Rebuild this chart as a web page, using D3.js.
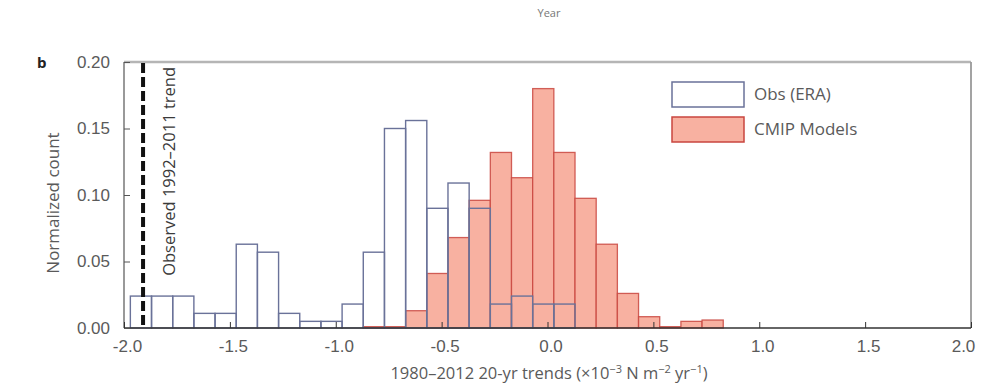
<!DOCTYPE html>
<html>
<head>
<meta charset="utf-8">
<script src="https://cdn.jsdelivr.net/npm/d3@7"></script>
<style>
  html, body { margin: 0; padding: 0; background: #fff; }
  svg { display: block; font-family: "Open Sans", "Noto Sans", sans-serif; }
</style>
</head>
<body>
<svg id="chart" width="982" height="383"></svg>
<script>
// ---- data ----
const binWidth = 0.1;
const binCenters = [-1.92, -1.82, -1.72, -1.62, -1.52, -1.42, -1.32, -1.22, -1.12, -1.02,
                    -0.92, -0.82, -0.72, -0.62, -0.52, -0.42, -0.32, -0.22, -0.12, -0.02,
                     0.08,  0.18,  0.28,  0.38,  0.48,  0.58,  0.68,  0.78];
const obsValues = [0.024, 0.024, 0.024, 0.011, 0.011, 0.063, 0.057, 0.011, 0.005, 0.005,
                   0.018, 0.057, 0.150, 0.156, 0.090, 0.109, 0.090, 0.018, 0.024, 0.018,
                   0.018, 0, 0, 0, 0, 0, 0, 0];
const cmipValues = [0, 0, 0, 0, 0, 0, 0, 0, 0, 0,
                    0, 0.001, 0.001, 0.013, 0.041, 0.068, 0.096, 0.132, 0.113, 0.180,
                    0.132, 0.0975, 0.063, 0.026, 0.0085, 0.001, 0.005, 0.006];
const observedTrend = -1.91;
const xTicks = [-2.0, -1.5, -1.0, -0.5, 0.0, 0.5, 1.0, 1.5, 2.0];
const yTicks = [0.00, 0.05, 0.10, 0.15, 0.20];
const seriesNames = ["Obs (ERA)", "CMIP Models"];

// ---- layout ----
const svg = d3.select("#chart");
const L = 124, R = 971, T = 62, B = 328;
const x = d3.scaleLinear().domain([-2, 2]).range([L, R]);
const y = d3.scaleLinear().domain([0, 0.2]).range([B, T]);

const pinkFill = "#f8b1a1", pinkStroke = "#c9463f";
const obsStroke = "#6a7299";
const textCol = "#5a5a5a";

// title fragment at top
svg.append("text").attr("x", 549).attr("y", 17).attr("text-anchor", "middle")
  .attr("font-size", 11).attr("fill", "#777").text("Year");

// panel label
svg.append("text").attr("x", 37).attr("y", 68).attr("font-size", 15)
  .attr("font-weight", "bold").attr("fill", "#222").text("b");

// CMIP bars
svg.append("g").selectAll("rect")
  .data(binCenters.map((c, i) => ({c, v: cmipValues[i]})).filter(d => d.v > 0))
  .join("rect")
  .attr("x", d => x(d.c - binWidth / 2))
  .attr("width", d => x(d.c + binWidth / 2) - x(d.c - binWidth / 2))
  .attr("y", d => y(d.v))
  .attr("height", d => y(0) - y(d.v))
  .attr("fill", pinkFill)
  .attr("stroke", pinkStroke)
  .attr("stroke-width", 1.3)
  .attr("stroke-opacity", 0.85);

// Obs bars (outline only)
svg.append("g").selectAll("rect")
  .data(binCenters.map((c, i) => ({c, v: obsValues[i]})).filter(d => d.v > 0))
  .join("rect")
  .attr("x", d => x(d.c - binWidth / 2))
  .attr("width", d => x(d.c + binWidth / 2) - x(d.c - binWidth / 2))
  .attr("y", d => y(d.v))
  .attr("height", d => y(0) - y(d.v))
  .attr("fill", "none")
  .attr("stroke", obsStroke)
  .attr("stroke-width", 1.4);

// frame
svg.append("line").attr("x1", L).attr("x2", R).attr("y1", T).attr("y2", T)
  .attr("stroke", "#b5b5b5").attr("stroke-width", 2.5);
svg.append("line").attr("x1", R).attr("x2", R).attr("y1", T).attr("y2", B)
  .attr("stroke", "#999").attr("stroke-width", 1.8);
svg.append("line").attr("x1", L).attr("x2", L).attr("y1", T).attr("y2", B)
  .attr("stroke", "#777").attr("stroke-width", 1.5);
svg.append("line").attr("x1", L).attr("x2", R).attr("y1", B).attr("y2", B)
  .attr("stroke", "#333").attr("stroke-width", 1.5);

// axes via d3 (inward ticks)
const xAxis = svg.append("g").attr("transform", `translate(0,${B})`)
  .call(d3.axisBottom(x).tickValues(xTicks).tickSize(-6).tickPadding(12)
        .tickFormat(d => d3.format(".1f")(d).replace("−", "-")));
xAxis.select(".domain").remove();
xAxis.selectAll(".tick line").attr("stroke", "#333");
xAxis.selectAll("text").attr("font-size", 17).attr("fill", textCol)
  .attr("transform", (d, i) => `translate(${i === xTicks.length - 1 ? -8 : 3},0)`);

const yAxis = svg.append("g").attr("transform", `translate(${L},0)`)
  .call(d3.axisLeft(y).tickValues(yTicks).tickSize(-6).tickPadding(14)
        .tickFormat(d3.format(".2f")));
yAxis.select(".domain").remove();
yAxis.selectAll(".tick line").attr("stroke", "#555");
yAxis.selectAll("text").attr("font-size", 17).attr("fill", textCol);

// dashed observed trend line
svg.append("line")
  .attr("x1", x(observedTrend)).attr("x2", x(observedTrend))
  .attr("y1", T + 1).attr("y2", B)
  .attr("stroke", "#111").attr("stroke-width", 4)
  .attr("stroke-dasharray", "10,4");
svg.append("text")
  .attr("transform", `translate(${x(observedTrend) + 32},${T + 5}) rotate(-90)`)
  .attr("text-anchor", "end")
  .attr("font-size", 16.5).attr("fill", "#3a3a3a")
  .text("Observed 1992–2011 trend");

// axis titles
svg.append("text")
  .attr("transform", `translate(59,${(T + B) / 2 + 8}) rotate(-90)`)
  .attr("text-anchor", "middle").attr("font-size", 17).attr("fill", textCol)
  .text("Normalized count");

const xt = svg.append("text").attr("x", 549).attr("y", 379)
  .attr("text-anchor", "middle").attr("font-size", 16.5).attr("fill", textCol);
xt.append("tspan").text("1980–2012 20-yr trends (×10");
xt.append("tspan").attr("dy", -6).attr("font-size", 11).text("−3");
xt.append("tspan").attr("dy", 6).text(" N m");
xt.append("tspan").attr("dy", -6).attr("font-size", 11).text("−2");
xt.append("tspan").attr("dy", 6).text(" yr");
xt.append("tspan").attr("dy", -6).attr("font-size", 11).text("−1");
xt.append("tspan").attr("dy", 6).text(")");

// legend
const leg = svg.append("g");
const legItems = [
  {name: seriesNames[0], fill: "#fff", stroke: obsStroke, y: 82},
  {name: seriesNames[1], fill: pinkFill, stroke: pinkStroke, y: 117}
];
legItems.forEach(d => {
  leg.append("rect").attr("x", 672).attr("y", d.y).attr("width", 72).attr("height", 25)
    .attr("fill", d.fill).attr("stroke", d.stroke).attr("stroke-width", 1.5);
  leg.append("text").attr("x", 754).attr("y", d.y + 18).attr("font-size", 17)
    .attr("fill", textCol).text(d.name);
});
</script>
</body>
</html>
